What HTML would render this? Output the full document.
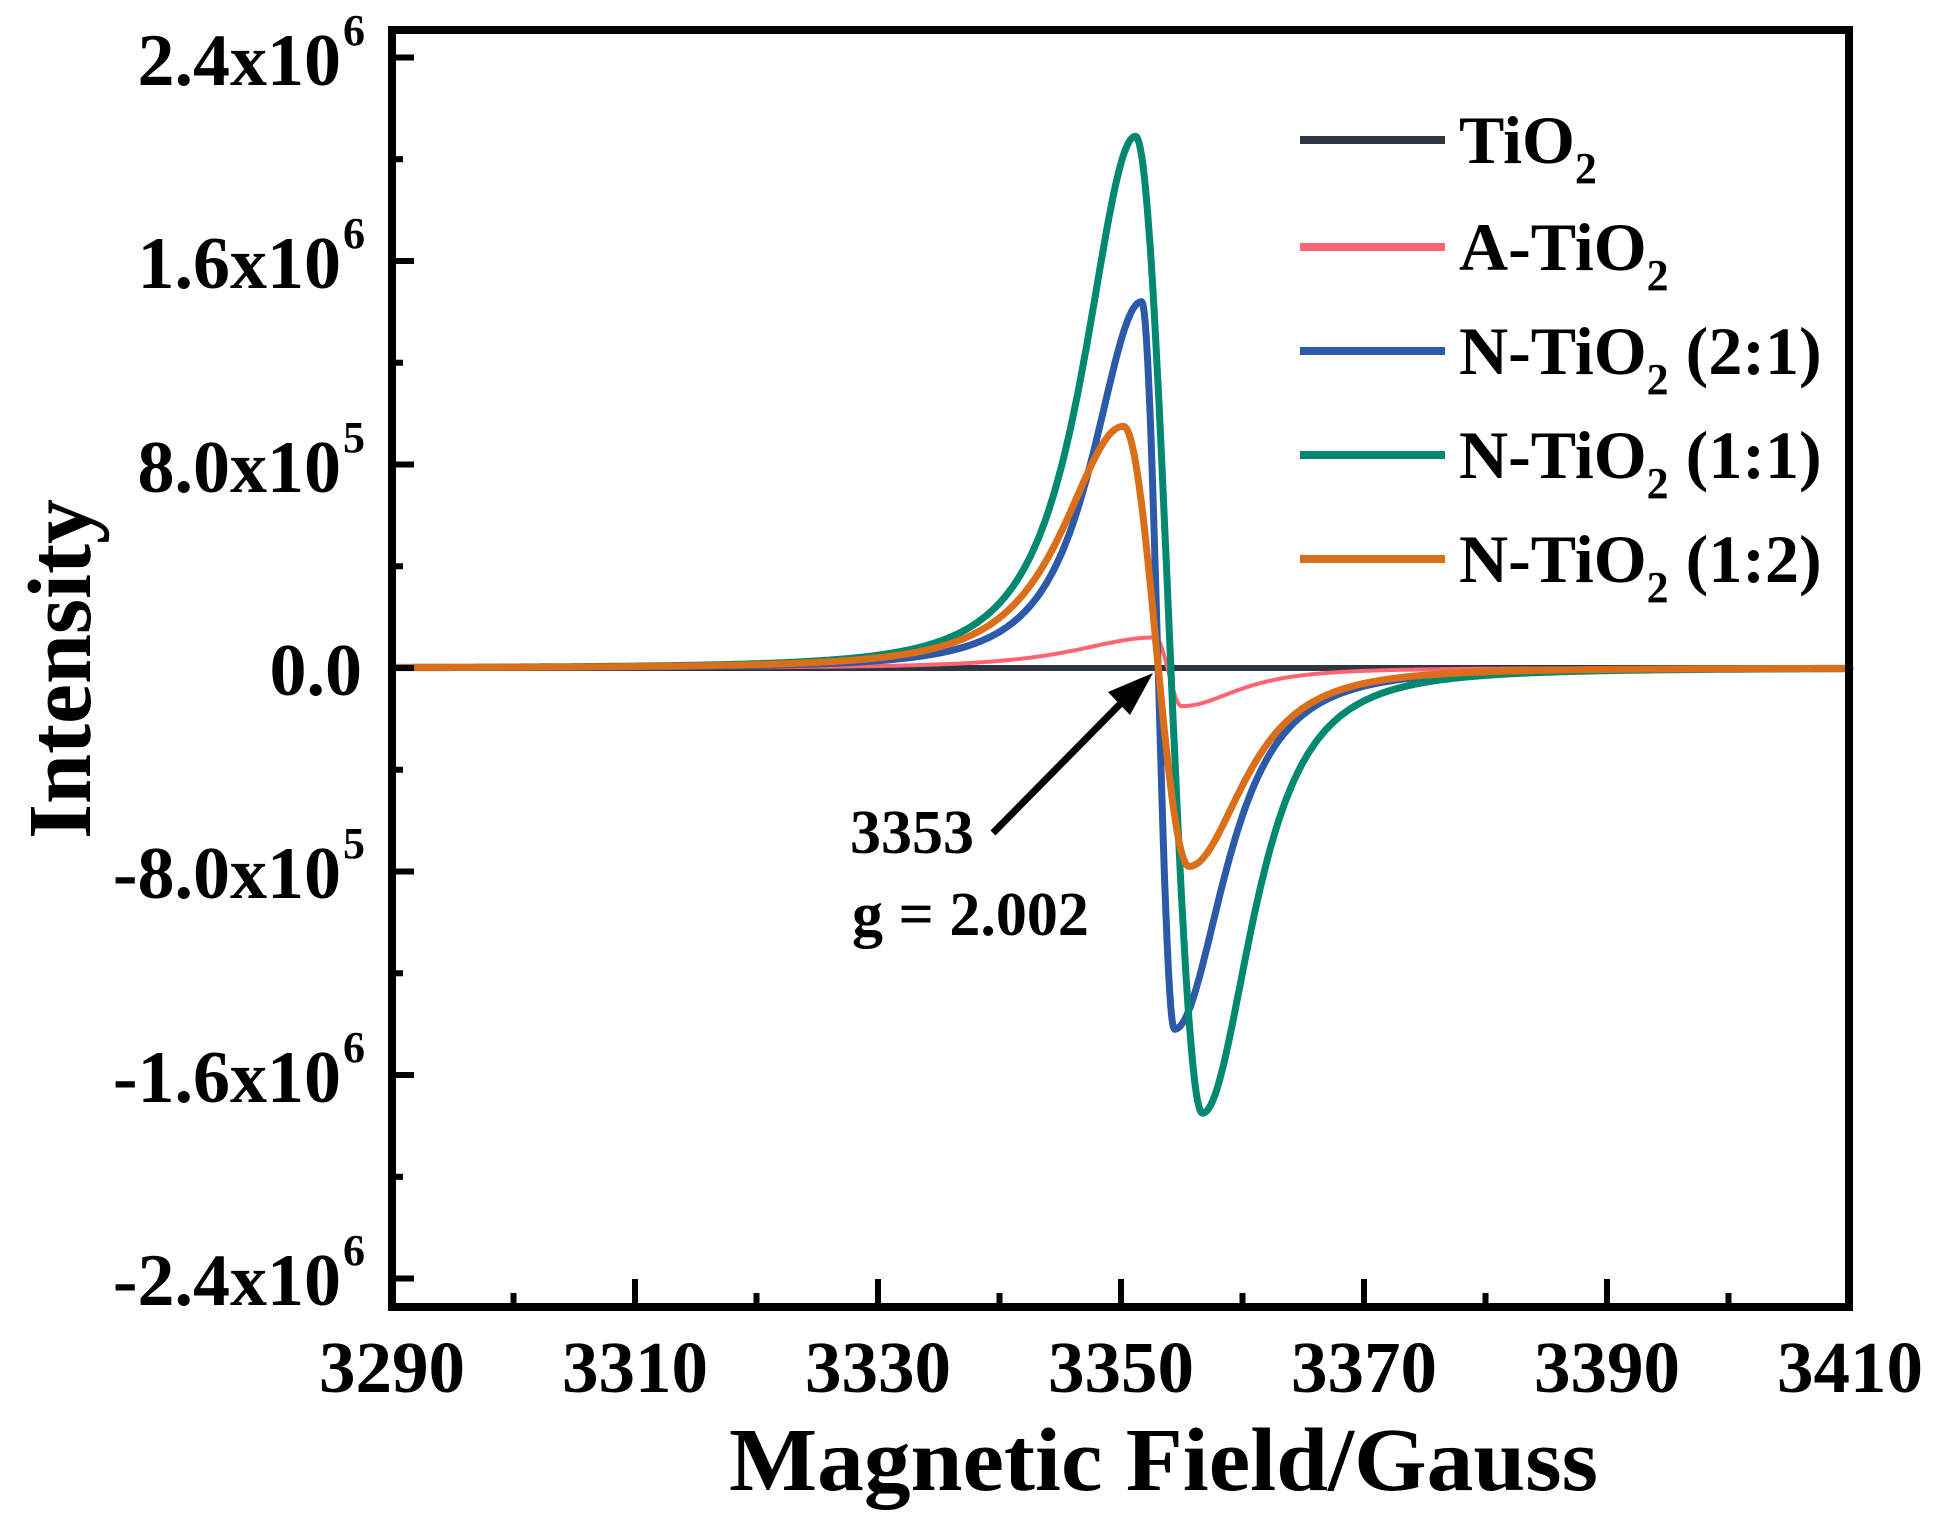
<!DOCTYPE html>
<html><head><meta charset="utf-8"><style>
html,body{margin:0;padding:0;background:#fff;}
svg{display:block;}
text{font-family:"Liberation Serif",serif;font-weight:bold;fill:#000;}
</style></head><body>
<svg id="s" width="1942" height="1525" viewBox="0 0 1942 1525" xmlns="http://www.w3.org/2000/svg">
<rect width="1942" height="1525" fill="#fff"/>
<g id="curves" fill="none" stroke-linejoin="round" stroke-linecap="round"></g>
<rect x="392" y="30" width="1457" height="1277" fill="none" stroke="#000" stroke-width="8"/>
<g id="ticks" stroke="#000" stroke-width="6"></g>
<g font-size="74" text-anchor="end">
<text x="341" y="85">2.4x10</text><text x="341" y="288">1.6x10</text><text x="341" y="492">8.0x10</text>
<text x="362" y="695">0.0</text>
<text x="341" y="898">-8.0x10</text><text x="341" y="1102">-1.6x10</text><text x="341" y="1305">-2.4x10</text>
</g>
<g font-size="44">
<text x="343" y="45">6</text><text x="343" y="248">6</text><text x="343" y="452">5</text>
<text x="343" y="858">5</text><text x="343" y="1062">6</text><text x="343" y="1265">6</text>
</g>
<g font-size="73" text-anchor="middle">
<text x="392" y="1392">3290</text><text x="635" y="1392">3310</text><text x="878" y="1392">3330</text>
<text x="1121" y="1392">3350</text><text x="1364" y="1392">3370</text><text x="1607" y="1392">3390</text><text x="1850" y="1392">3410</text>
</g>
<text x="729" y="1490" font-size="90" textLength="869" lengthAdjust="spacingAndGlyphs">Magnetic Field/Gauss</text>
<text transform="translate(90,669) rotate(-90)" font-size="90" text-anchor="middle">Intensity</text>
<g stroke-width="8">
<line x1="1300" y1="140" x2="1445" y2="140" stroke="#2e3440"/>
<line x1="1300" y1="247" x2="1445" y2="247" stroke="#ff6473"/>
<line x1="1300" y1="351" x2="1445" y2="351" stroke="#2c5aa8"/>
<line x1="1300" y1="455" x2="1445" y2="455" stroke="#008870"/>
<line x1="1300" y1="559" x2="1445" y2="559" stroke="#db6e18"/>
</g>
<g font-size="68">
<text x="1459" y="163">TiO<tspan font-size="44" dy="20">2</tspan></text>
<text x="1459" y="270">A-TiO<tspan font-size="44" dy="20">2</tspan></text>
<text x="1459" y="374">N-TiO<tspan font-size="44" dy="20">2</tspan><tspan dy="-20"> (2:1)</tspan></text>
<text x="1459" y="478">N-TiO<tspan font-size="44" dy="20">2</tspan><tspan dy="-20"> (1:1)</tspan></text>
<text x="1459" y="582">N-TiO<tspan font-size="44" dy="20">2</tspan><tspan dy="-20"> (1:2)</tspan></text>
</g>
<line x1="993" y1="833" x2="1130" y2="694" stroke="#000" stroke-width="7"/>
<polygon points="1153,673 1108,692 1130,715" fill="#000"/>
<text x="850" y="853" font-size="62">3353</text>
<text x="852" y="935" font-size="62">g = 2.002</text>
</svg>
<script>
var NS="http://www.w3.org/2000/svg";
function X(g){return 392+(g-3290)*12.15;}
function Y(v){return 668-v*254.4;}
var t=document.getElementById('ticks');
function L(x1,y1,x2,y2){var l=document.createElementNS(NS,'line');l.setAttribute('x1',x1);l.setAttribute('y1',y1);l.setAttribute('x2',x2);l.setAttribute('y2',y2);t.appendChild(l);}
for(var g=3290;g<=3410;g+=10){var x=X(g);var len=(g%20==10)?28:14;L(x,1307,x,1307-len);}
for(var k=-6;k<=6;k++){var y=Y(k*0.4);var len=(k%2==0)?22:11;L(392,y,392+len,y);}
var c=document.getElementById('curves');
function curve(p,col,w){
 var d="";
 for(var g=3290;g<=3410;g+=0.1){
  var v;
  if(g<=p.xp){var u=(p.xp-g)/p.wl;v=p.H/Math.pow(1+u*u,p.pl);}
  else if(g>=p.xt){var u=(g-p.xt)/p.wr;v=-p.D/Math.pow(1+u*u,p.pr);}
  else{var s=(g-p.xp)/(p.xt-p.xp);v=p.H+(-p.D-p.H)*(1-Math.cos(Math.PI*s))/2;}
  d+=(d?"L":"M")+X(g).toFixed(1)+","+Y(v).toFixed(1);
 }
 var e=document.createElementNS(NS,'path');e.setAttribute('d',d);e.setAttribute('stroke',col);e.setAttribute('stroke-width',w);c.appendChild(e);
}
var b=document.createElementNS(NS,'line');b.setAttribute('x1',396);b.setAttribute('x2',1846);b.setAttribute('y1',668);b.setAttribute('y2',668);b.setAttribute('stroke','#2e3440');b.setAttribute('stroke-width',6);c.appendChild(b);
curve({xp:3352.8,xt:3355.0,H:0.12,D:0.15,wl:10,wr:7,pl:1.5,pr:1.5},'#ff6473',4);
curve({xp:3351.7,xt:3354.4,H:1.44,D:1.42,wl:6.1,wr:6.2,pl:1.5,pr:1.5},'#2c5aa8',7);
curve({xp:3351.2,xt:3356.7,H:2.09,D:1.75,wl:6.4,wr:6.15,pl:1.5,pr:1.5},'#008870',7);
curve({xp:3350.2,xt:3355.6,H:0.95,D:0.78,wl:7.5,wr:6.8,pl:1.5,pr:1.5},'#db6e18',7);
</script>
</body></html>
